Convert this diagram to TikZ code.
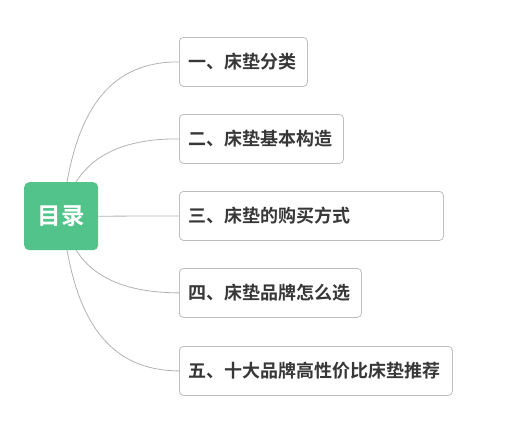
\documentclass[tikz,border=0pt]{standalone}
\usepackage{fontspec}
\newfontfamily\cjk{Noto Sans CJK SC}[BoldFont={Noto Sans CJK SC Bold}]
\definecolor{rootgreen}{RGB}{82,196,139}
\definecolor{boxline}{RGB}{190,190,190}
\definecolor{linkgray}{RGB}{178,178,178}
\definecolor{txt}{RGB}{55,55,55}
\begin{document}
\begin{tikzpicture}[x=1pt,y=-1pt,
  topic/.style={draw=boxline,line width=0.8pt,rounded corners=4pt,fill=white,anchor=north west,inner ysep=0pt,inner xsep=9.5pt,
    align=left,font=\cjk\bfseries\fontsize{18}{20}\selectfont,text=txt,minimum height=49pt},
  rootbox/.style={fill=rootgreen,rounded corners=5pt,anchor=north west,inner sep=0pt,
    font=\cjk\bfseries\fontsize{23.5}{26}\selectfont,text=white},
  link/.style={draw=linkgray,line width=0.8pt}]
\useasboundingbox (0,0) rectangle (528,437);
\node[rootbox,minimum width=74pt,minimum height=68pt] (r) at (24,182) {目录};
\node[topic,text width=109pt] (a) at (179,37) {一、床垫分类};
\node[topic,text width=145pt] (b) at (179,114) {二、床垫基本构造};
\node[topic,text width=245pt] (c) at (179,191) {三、床垫的购买方式};
\node[topic,text width=163pt] (d) at (179,268) {四、床垫品牌怎么选};
\node[topic,text width=254pt] (e) at (179,346) {五、十大品牌高性价比床垫推荐};
\coordinate (rt1) at (67,182);
\coordinate (rt2) at (76,182);
\coordinate (rb1) at (67,250);
\coordinate (rb2) at (76,250);
\draw[link] (rt1) .. controls (80,110) and (110,61.5) .. (a.west);
\draw[link] (rt2) .. controls (95,152) and (130,138.5) .. (b.west);
\draw[link] (r.east) -- (c.west);
\draw[link] (rb2) .. controls (95,280) and (130,292.5) .. (d.west);
\draw[link] (rb1) .. controls (80,322) and (110,370.5) .. (e.west);
\end{tikzpicture}
\end{document}
